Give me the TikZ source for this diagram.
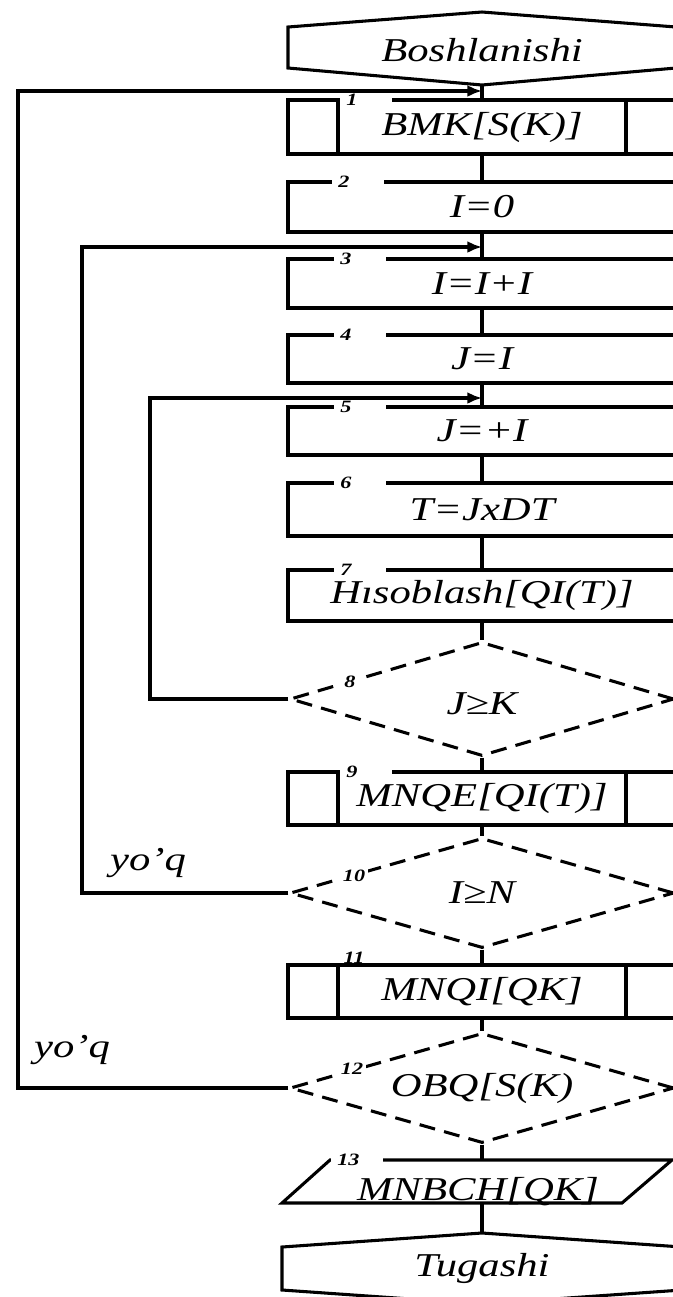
\documentclass[tikz,border=0pt]{standalone}
\usepackage{fontspec}
\setmainfont{Liberation Serif}[FakeStretch=1.28]
\usetikzlibrary{shapes.geometric,arrows.meta}
\begin{document}
\begin{tikzpicture}[x=0.75pt,y=-0.75pt,
  ln/.style={line width=2.3pt},
  box/.style={draw, line width=2.3pt, minimum width=291pt, inner sep=0pt, font=\fontsize{25}{28}\selectfont\itshape},
  dia/.style={diamond, draw, line width=2.3pt, dash pattern=on 12pt off 7pt, minimum width=288pt, inner sep=0pt, aspect=3.4},
  lbl/.style={font=\fontsize{25}{28}\selectfont\itshape, inner sep=1pt},
  num/.style={font=\fontsize{13}{14}\selectfont\bfseries\itshape, fill=white, inner ysep=1pt, inner xsep=4.5pt, text width=30pt, align=left, anchor=west},
  dnum/.style={font=\fontsize{13}{14}\selectfont\bfseries\itshape, fill=white, inner sep=2.5pt},
  arr/.style={line width=2.3pt, -{Latex[length=11pt,width=9pt]}}]
\clip (0,0) rectangle (673,1297);
\useasboundingbox (0,0) rectangle (673,1297);
\fill[white] (0,0) rectangle (673,1297);

% start
\draw[ln] (288,27) -- (482,12) -- (676,27) -- (676,68) -- (482,85) -- (288,68) -- cycle;
\node[lbl] (start) at (482,50) {Boshlanishi};
\coordinate (sb) at (482,85);

% boxes
\node[box, minimum height=40.5pt] (b1) at (482,127) {BMK[S(K)]};
\draw[ln] (338,100) -- (338,154) (626,100) -- (626,154);
\node[box, minimum height=37.5pt] (b2) at (482,207) {I=0};
\node[box, minimum height=36.75pt] (b3) at (482,283.5) {I=I+I};
\node[box, minimum height=36pt] (b4) at (482,359) {J=I};
\node[box, minimum height=36pt] (b5) at (482,431) {J=+I};
\node[box, minimum height=39.75pt] (b6) at (482,509.5) {T=JxDT};
\node[box, minimum height=38.25pt] (b7) at (482,595.5) {Hısoblash[QI(T)]};
\node[dia, minimum height=85.5pt] (d8) at (482,699) {};
\node[lbl] (t8) at (482,704) {J≥K};
\node[box, minimum height=39.75pt] (b9) at (482,798.5) {MNQE[QI(T)]};
\draw[ln] (338,772) -- (338,825) (626,772) -- (626,825);
\node[dia, minimum height=82.5pt] (d10) at (482,893) {};
\node[lbl] (t10) at (482,893) {I≥N};
\node[box, minimum height=39.75pt] (b11) at (482,991.5) {MNQI[QK]};
\draw[ln] (338,965) -- (338,1018) (626,965) -- (626,1018);
\node[dia, minimum height=82.5pt] (d12) at (482,1088) {};
\node[lbl] (t12) at (482,1088) {OBQ[S(K)};
% output parallelogram
\draw[ln] (282,1203) -- (330,1160) -- (672,1160) -- (622,1203) -- cycle;
\node[lbl, anchor=base] (t13) at (478,1200) {MNBCH[QK]};
\coordinate (p13t) at (482,1160);
\coordinate (p13b) at (482,1203);
% end
\draw[ln] (282,1247) -- (482,1233) -- (682,1247) -- (682,1290) -- (482,1304) -- (282,1290) -- cycle;
\node[lbl] (end) at (482,1268) {Tugashi};
\coordinate (et) at (482,1233);

% trunk
\draw[ln] (sb) -- (b1.north);
\draw[ln] (b1.south) -- (b2.north);
\draw[ln] (b2.south) -- (b3.north);
\draw[ln] (b3.south) -- (b4.north);
\draw[ln] (b4.south) -- (b5.north);
\draw[ln] (b5.south) -- (b6.north);
\draw[ln] (b6.south) -- (b7.north);
\draw[ln] (b7.south) -- (d8.north);
\draw[ln] (d8.south) -- (b9.north);
\draw[ln] (b9.south) -- (d10.north);
\draw[ln] (d10.south) -- (b11.north);
\draw[ln] (b11.south) -- (d12.north);
\draw[ln] (d12.south) -- (p13t);
\draw[ln] (p13b) -- (et);

% loops
\coordinate (j1) at (482,91);
\coordinate (c1) at (18,91);
\coordinate (j2) at (482,247);
\coordinate (c2) at (82,247);
\coordinate (j3) at (482,398);
\coordinate (c3) at (150,398);
\draw[arr] (d12.west) -| (c1) -- (j1);
\draw[arr] (d10.west) -| (c2) -- (j2);
\draw[arr] (d8.west) -| (c3) -- (j3);
\node[lbl] (y1) at (72,1050) {yo'q};
\node[lbl] (y2) at (148,863) {yo'q};

% numbers
\node[num] (n1) at (340,100) {1};
\node[num] (n2) at (332,182) {2};
\node[num] (n3) at (334,259) {3};
\node[num] (n4) at (334,335) {4};
\node[num] (n5) at (334,407) {5};
\node[num] (n6) at (334,483) {6};
\node[num] (n7) at (334,570) {7};
\node[dnum] (n8) at (350,682) {8};
\node[num] (n9) at (340,772) {9};
\node[dnum] (n10) at (354,876) {10};
\node[font=\fontsize{13}{14}\selectfont\bfseries\itshape, inner sep=0pt] (n11) at (354,958) {11};
\node[dnum] (n12) at (352,1069) {12};
\node[num] (n13) at (331,1160) {13};
\end{tikzpicture}
\end{document}
